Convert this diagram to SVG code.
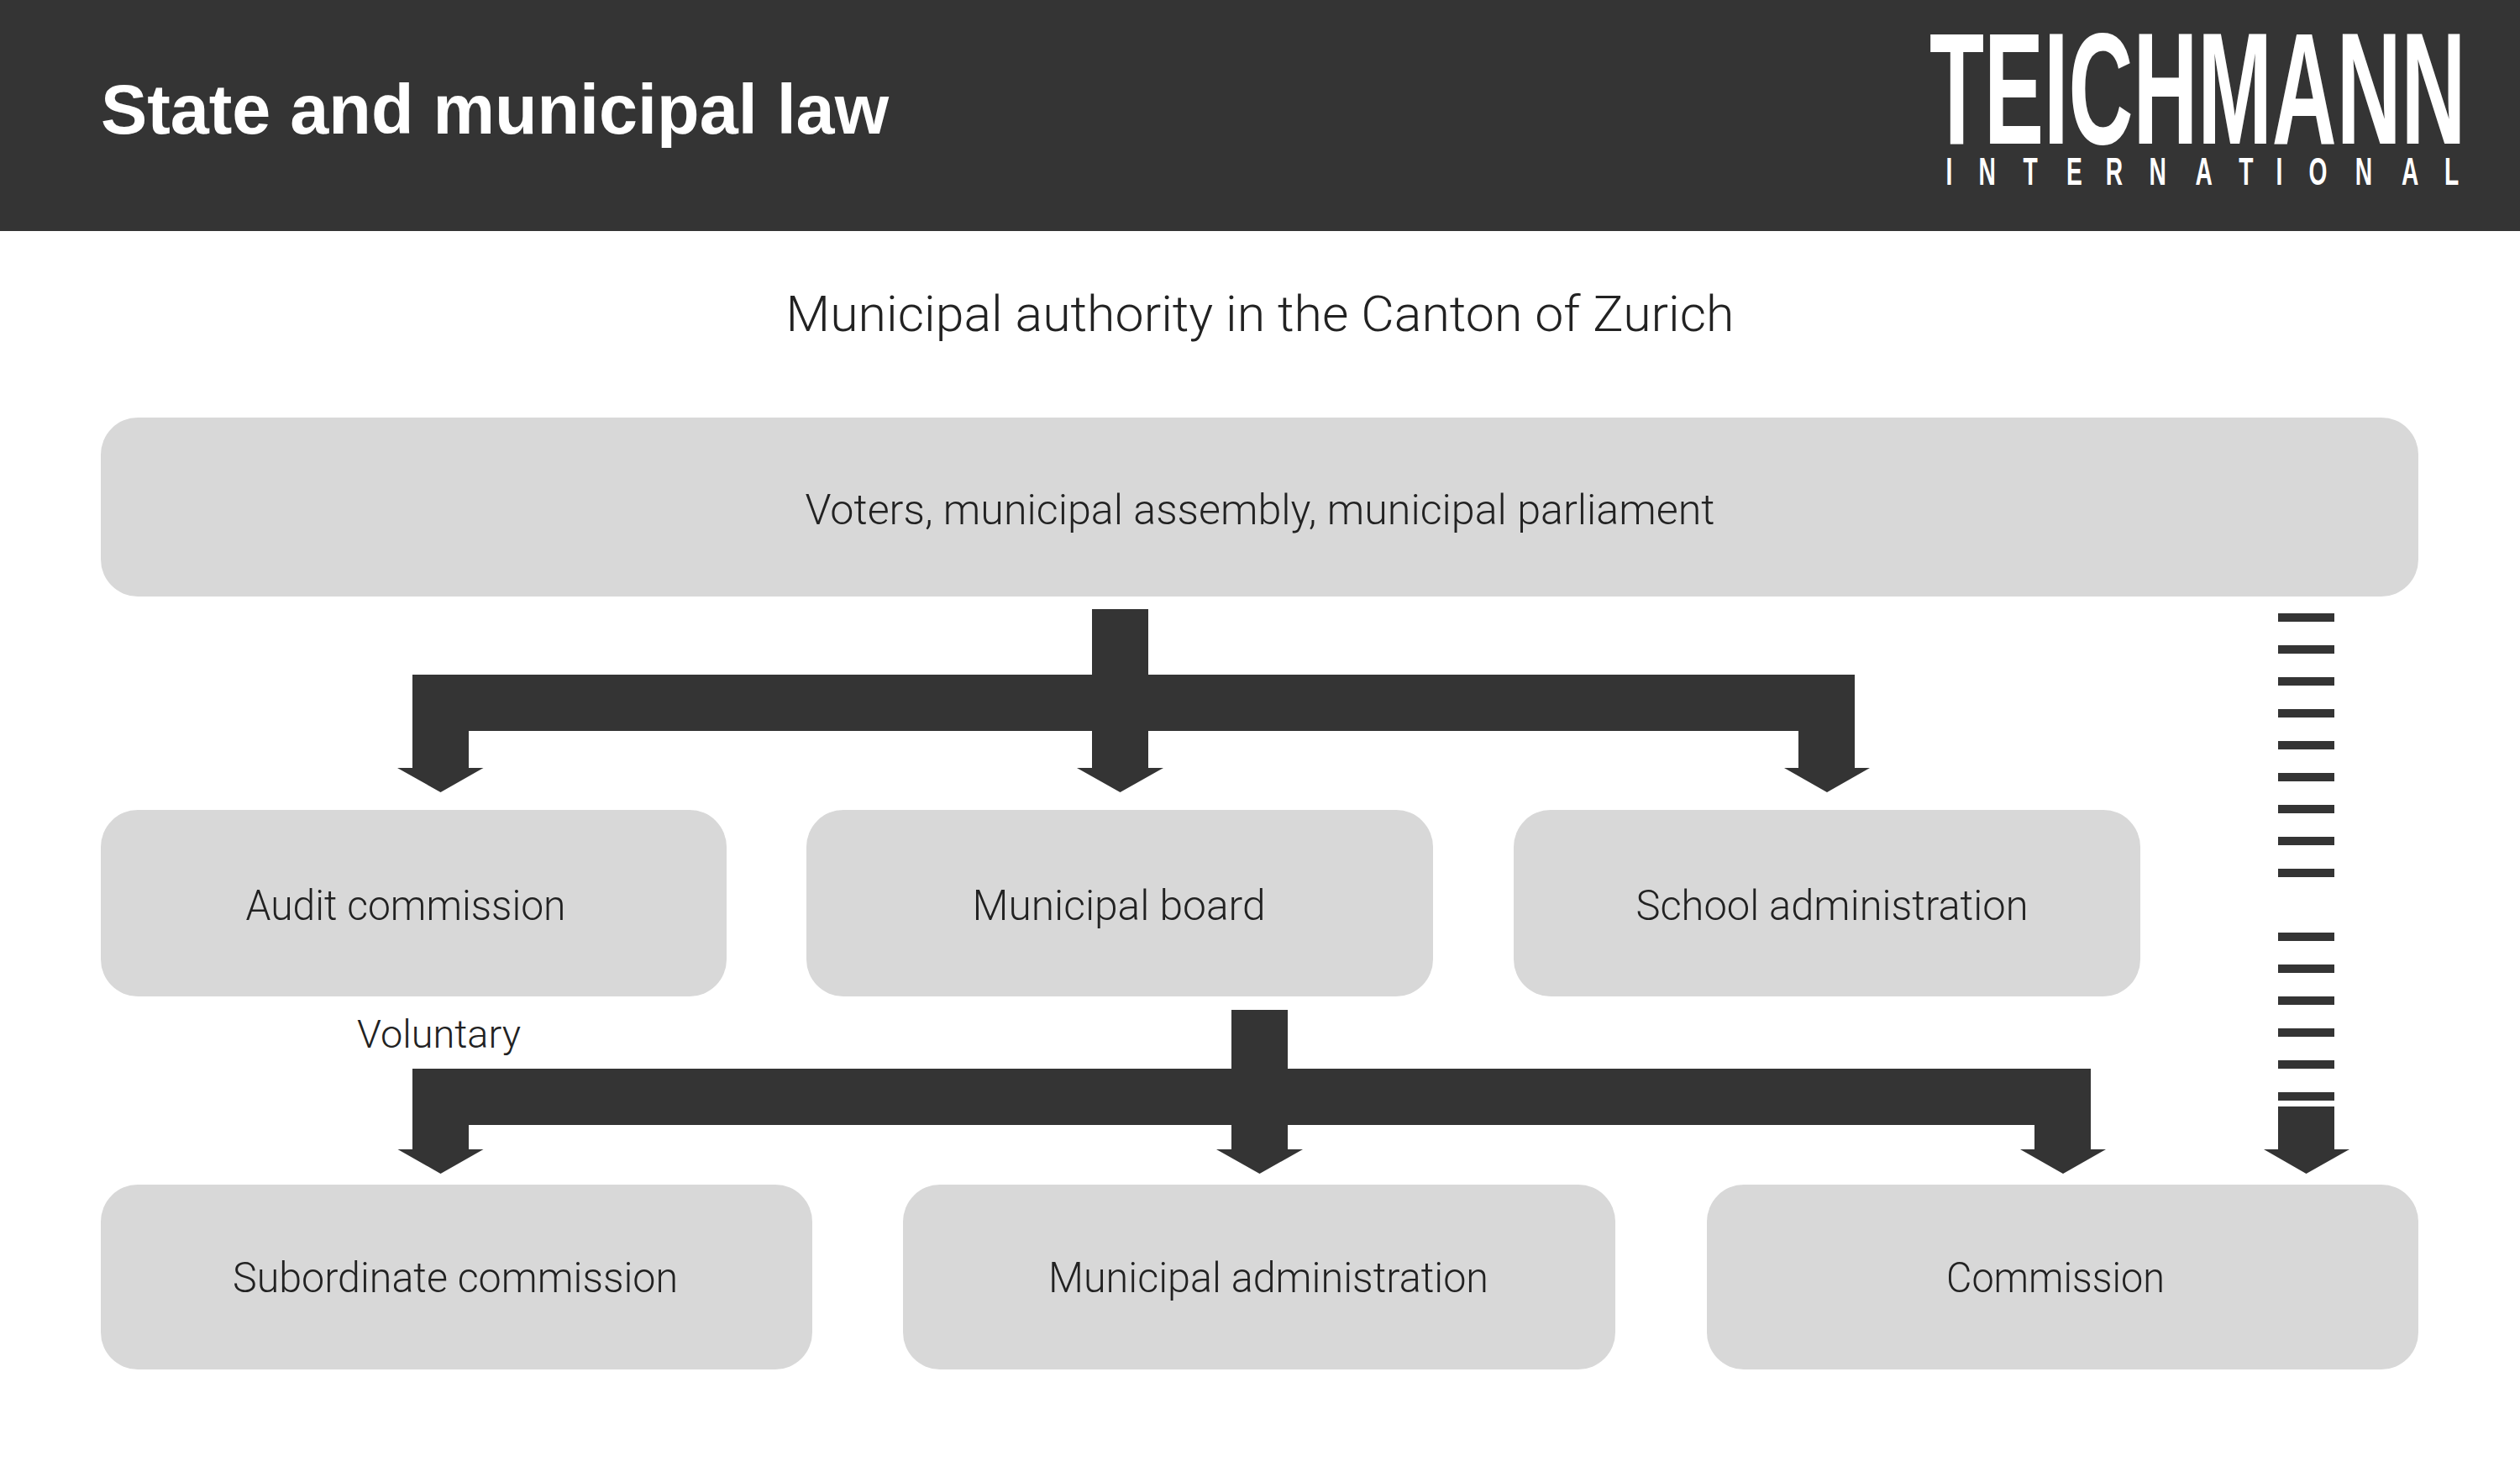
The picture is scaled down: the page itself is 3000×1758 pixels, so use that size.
<svg xmlns="http://www.w3.org/2000/svg" width="3000" height="1758" viewBox="0 0 3000 1758">
<style>
.n{fill:#d8d8d8}
.c{fill:#343434}
text{font-family:Roboto,"Liberation Sans",sans-serif;font-weight:300;fill:#222}
.l{font-size:50px;text-anchor:middle}
</style>
<rect width="3000" height="1758" fill="#fff"/>
<g id="header">
<rect width="3000" height="275" fill="#343434"/>
<text x="120" y="159" textLength="938" lengthAdjust="spacingAndGlyphs" style="font-family:'Liberation Sans',sans-serif;font-weight:700;font-size:84px;fill:#fff">State and municipal law</text>
<text transform="translate(2297,171) scale(.6,1)" x="0" y="0" textLength="1064" lengthAdjust="spacingAndGlyphs" style="font-family:'Liberation Sans',sans-serif;font-weight:700;font-size:190px;fill:#fff">TEICHMANN</text>
<text transform="translate(0,220) scale(.6,1)" y="0" x="3861 3926 4014 4100 4178 4264 4356 4442 4516 4581 4673 4765 4850" style="font-family:'Liberation Sans',sans-serif;font-weight:700;font-size:47px;fill:#fff">INTERNATIONAL</text>
</g>
<text id="title" x="1500" y="394" text-anchor="middle" textLength="1129" lengthAdjust="spacingAndGlyphs" style="font-size:60px">Municipal authority in the Canton of Zurich</text>
<g id="voters"><rect class="n" x="120" y="497" width="2759" height="213" rx="44"/><text class="l" x="1500" y="624" textLength="1083" lengthAdjust="spacingAndGlyphs">Voters, municipal assembly, municipal parliament</text></g>
<g id="audit"><rect class="n" x="120" y="964" width="745" height="222" rx="44"/><text class="l" x="483" y="1095" textLength="381" lengthAdjust="spacingAndGlyphs">Audit commission</text></g>
<g id="board"><rect class="n" x="960" y="964" width="746" height="222" rx="44"/><text class="l" x="1332" y="1095" textLength="349" lengthAdjust="spacingAndGlyphs">Municipal board</text></g>
<g id="school"><rect class="n" x="1802" y="964" width="746" height="222" rx="44"/><text class="l" x="2181" y="1095" textLength="467" lengthAdjust="spacingAndGlyphs">School administration</text></g>
<g id="subordinate"><rect class="n" x="120" y="1410" width="847" height="220" rx="44"/><text class="l" x="542" y="1538" textLength="530" lengthAdjust="spacingAndGlyphs">Subordinate commission</text></g>
<g id="administration"><rect class="n" x="1075" y="1410" width="848" height="220" rx="44"/><text class="l" x="1510" y="1538" textLength="524" lengthAdjust="spacingAndGlyphs">Municipal administration</text></g>
<g id="commission"><rect class="n" x="2032" y="1410" width="847" height="220" rx="44"/><text class="l" x="2447" y="1538" textLength="260" lengthAdjust="spacingAndGlyphs">Commission</text></g>
<text id="voluntary" x="425" y="1247" textLength="195" lengthAdjust="spacingAndGlyphs" style="font-size:46px">Voluntary</text>
<g id="connectors">
<path class="c" d="M1300 725H1367V803H2208V914H2226L2175 943L2124 914H2141V870H1367V914H1385L1333.500 943L1282 914H1300V870H558V914H575.500L524.500 943L473 914H491V803H1300Z"/>
<path class="c" d="M1466 1202H1533V1272H2489V1368H2507L2456 1397L2405 1368H2422V1339H1533V1368H1551L1499.500 1397L1448 1368H1466V1339H558V1368H575.500L524.500 1397L473.500 1368H491V1272H1466Z"/>
<path class="c" d="M2712 1317H2779V1368H2797L2745.500 1397L2695 1368H2712Z"/>
<path class="c" d="M2712 730h67v10h-67zM2712 768h67v10h-67zM2712 806h67v10h-67zM2712 844h67v10h-67zM2712 882h67v10h-67zM2712 920h67v10h-67zM2712 958h67v10h-67zM2712 996h67v10h-67zM2712 1034h67v10h-67zM2712 1110h67v10h-67zM2712 1148h67v10h-67zM2712 1186h67v10h-67zM2712 1224h67v10h-67zM2712 1262h67v10h-67zM2712 1300h67v10h-67z"/>
</g>
</svg>
